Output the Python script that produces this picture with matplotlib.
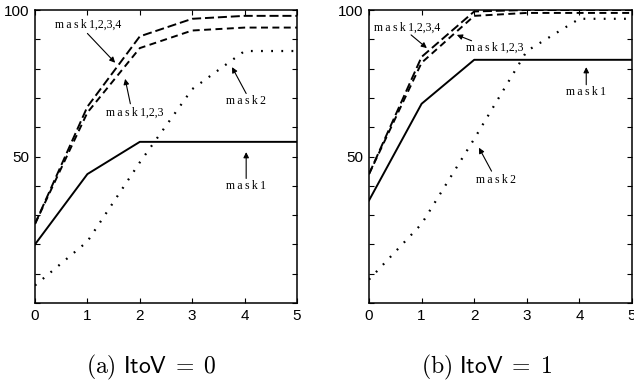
import numpy as np
import matplotlib
matplotlib.use("Agg")
import matplotlib.pyplot as plt

plt.rcParams['mathtext.fontset'] = 'cm'
plt.rcParams['lines.scale_dashes'] = False

# data
steps = [0, 1, 2, 3, 4, 5]

# (a) ItoV = 0
a_mask1 = [20, 44, 55, 55, 55, 55]
a_mask2 = [6, 21, 48, 73, 86, 86]
a_mask123 = [27, 65, 87, 93, 94, 94]
a_mask1234 = [27, 67, 91, 97, 98, 98]

# (b) ItoV = 1
b_mask1 = [35, 68, 83, 83, 83, 83]
b_mask2 = [8, 27, 56, 86, 97, 97]
b_mask123 = [44, 82, 98, 99, 99, 99]
b_mask1234 = [44, 84, 99.5, 100, 100, 100]

y_ticklabels = {50: '50', 100: '100'}
captions = [r'$\mathrm{(a)}\ \mathsf{ItoV}\;=\;0$', r'$\mathrm{(b)}\ \mathsf{ItoV}\;=\;1$']

# (label, text pos, arrow tail, arrow tip) in data coords
a_notes = [
    ('mask1,2,3,4', (1.01, 95), (1.0, 92), (1.53, 82)),
    ('mask1,2,3', (1.91, 65), (1.82, 68), (1.72, 76.5)),
    ('mask2', (4.03, 69), (4.03, 71.5), (3.76, 80.5)),
    ('mask1', (4.03, 40), (4.03, 42.5), (4.03, 51.5)),
]
b_notes = [
    ('mask1,2,3,4', (0.72, 94), (0.8, 91.5), (1.10, 87)),
    ('mask1,2,3', (2.40, 87), (1.95, 89.5), (1.67, 91.5)),
    ('mask1', (4.13, 72), (4.13, 74.5), (4.13, 80.5)),
    ('mask2', (2.41, 42), (2.33, 45), (2.09, 53)),
]


def spaced(s):
    # the reference typesets "mask" with loose letter spacing
    head, tail = s[:5], s[5:]
    return '\u2009'.join(head) + tail


W, H = 634, 381
fig = plt.figure(figsize=(W / 100, H / 100), dpi=100)
ax_a = fig.add_axes([35 / W, 1 - 303 / H, 262 / W, 293 / H])
ax_b = fig.add_axes([369 / W, 1 - 303 / H, 263 / W, 293 / H])


def draw_panel(ax, m1, m2, m123, m1234, notes):
    lw = 1.4
    ax.plot(steps, m1, color='black', lw=lw, linestyle='-')
    ax.plot(steps, m2, color='black', lw=lw + 0.2, linestyle=(0, (1.3, 6.0)))
    ax.plot(steps, m123, color='black', lw=lw, linestyle=(0, (5.0, 3.2)))
    ax.plot(steps, m1234, color='black', lw=lw, linestyle=(0, (6.5, 2.8)))

    ax.set_xlim(0, 5)
    ax.set_ylim(0, 100)
    ax.set_xticks(steps)
    ax.set_yticks(np.arange(0, 101, 10))
    ax.set_yticklabels([y_ticklabels.get(int(v), '') for v in np.arange(0, 101, 10)])
    ax.tick_params(direction='in', top=True, right=True, length=3.5, width=0.8,
                   labelsize=11, pad=4)
    for lab in ax.get_xticklabels() + ax.get_yticklabels():
        lab.set_family('Liberation Sans')
    for sp in ax.spines.values():
        sp.set_linewidth(1.1)

    for label, tpos, tail, tip in notes:
        ax.text(tpos[0], tpos[1], spaced(label), ha='center', va='center',
                family='Liberation Serif', fontsize=8.5)
        ax.annotate('', xy=tip, xytext=tail,
                    arrowprops=dict(arrowstyle='-|>', color='black', lw=0.8,
                                    mutation_scale=8, shrinkA=0, shrinkB=0))


draw_panel(ax_a, a_mask1, a_mask2, a_mask123, a_mask1234, a_notes)
draw_panel(ax_b, b_mask1, b_mask2, b_mask123, b_mask1234, b_notes)

fig.text(151 / W, 1 - 367 / H, captions[0], ha='center', va='center', fontsize=17)
fig.text(487 / W, 1 - 367 / H, captions[1], ha='center', va='center', fontsize=17)

fig.savefig('out.png', dpi=100, facecolor='white')
